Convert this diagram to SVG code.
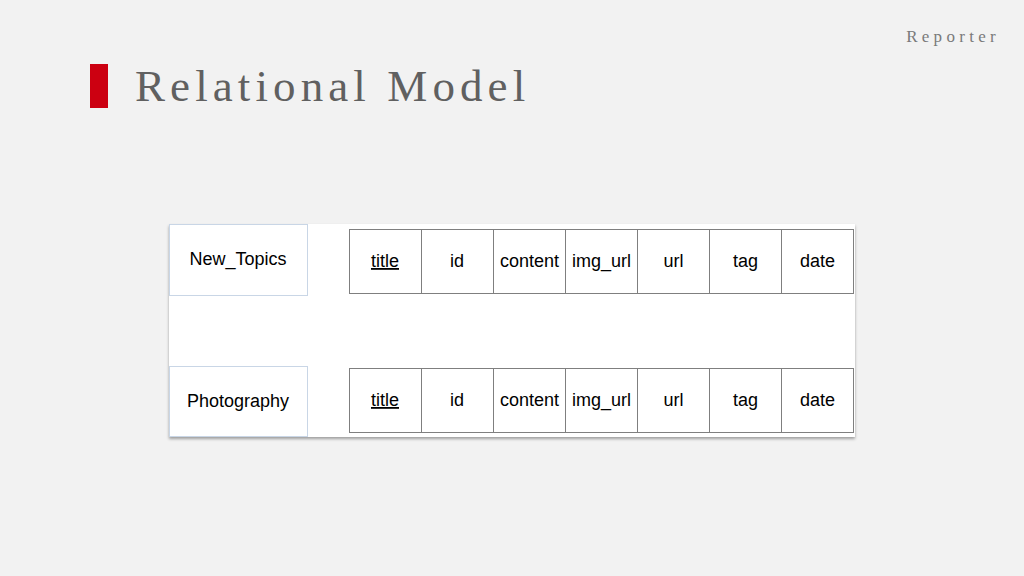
<svg xmlns="http://www.w3.org/2000/svg" width="1024" height="576" viewBox="0 0 1024 576">
<defs>
<filter id="sh" x="-5%" y="-5%" width="110%" height="115%"><feDropShadow dx="0" dy="2" stdDeviation="1.5" flood-color="#000" flood-opacity="0.35"/></filter>
</defs>
<style>
.t{font-family:"Liberation Sans",Arial,sans-serif;font-size:18px;fill:#000;text-anchor:middle}
.c{fill:#fff;stroke:#7f7f7f;stroke-width:1}
.n{fill:#fff;stroke:#c9d6e6;stroke-width:1}
</style>
<rect width="1024" height="576" fill="#f2f2f2"/>
<text x="1000" y="42" text-anchor="end" font-family="Liberation Serif,serif" font-size="17" fill="#7a7a7a" letter-spacing="4.3">Reporter</text>
<rect x="90" y="64" width="18" height="44" fill="#cc0011"/>
<text x="135" y="101" font-family="Liberation Serif,serif" font-size="45" fill="#606060" letter-spacing="5.1">Relational Model</text>
<rect x="169" y="224" width="686" height="213" fill="#fff" filter="url(#sh)"/>
<g id="new_topics">
<rect class="n" x="169.5" y="224.5" width="138" height="71"/>
<text class="t" x="238" y="265">New_Topics</text>
</g>
<g id="photography">
<rect class="n" x="169.5" y="366.5" width="138" height="70"/>
<text class="t" x="238" y="407">Photography</text>
</g>
<g id="new_topics_fields">
<rect class="c" x="349.5" y="229.5" width="72" height="64"/>
<rect class="c" x="421.5" y="229.5" width="72" height="64"/>
<rect class="c" x="493.5" y="229.5" width="72" height="64"/>
<rect class="c" x="565.5" y="229.5" width="72" height="64"/>
<rect class="c" x="637.5" y="229.5" width="72" height="64"/>
<rect class="c" x="709.5" y="229.5" width="72" height="64"/>
<rect class="c" x="781.5" y="229.5" width="72" height="64"/>
<text class="t" x="385" y="267" text-decoration="underline">title</text>
<text class="t" x="457" y="267">id</text>
<text class="t" x="529.5" y="267">content</text>
<text class="t" x="601.5" y="267">img_url</text>
<text class="t" x="673.5" y="267">url</text>
<text class="t" x="745.5" y="267">tag</text>
<text class="t" x="817.5" y="267">date</text>
</g>
<g id="photography_fields">
<rect class="c" x="349.5" y="368.5" width="72" height="64"/>
<rect class="c" x="421.5" y="368.5" width="72" height="64"/>
<rect class="c" x="493.5" y="368.5" width="72" height="64"/>
<rect class="c" x="565.5" y="368.5" width="72" height="64"/>
<rect class="c" x="637.5" y="368.5" width="72" height="64"/>
<rect class="c" x="709.5" y="368.5" width="72" height="64"/>
<rect class="c" x="781.5" y="368.5" width="72" height="64"/>
<text class="t" x="385" y="406" text-decoration="underline">title</text>
<text class="t" x="457" y="406">id</text>
<text class="t" x="529.5" y="406">content</text>
<text class="t" x="601.5" y="406">img_url</text>
<text class="t" x="673.5" y="406">url</text>
<text class="t" x="745.5" y="406">tag</text>
<text class="t" x="817.5" y="406">date</text>
</g>
<g id="connectors"/>
</svg>
